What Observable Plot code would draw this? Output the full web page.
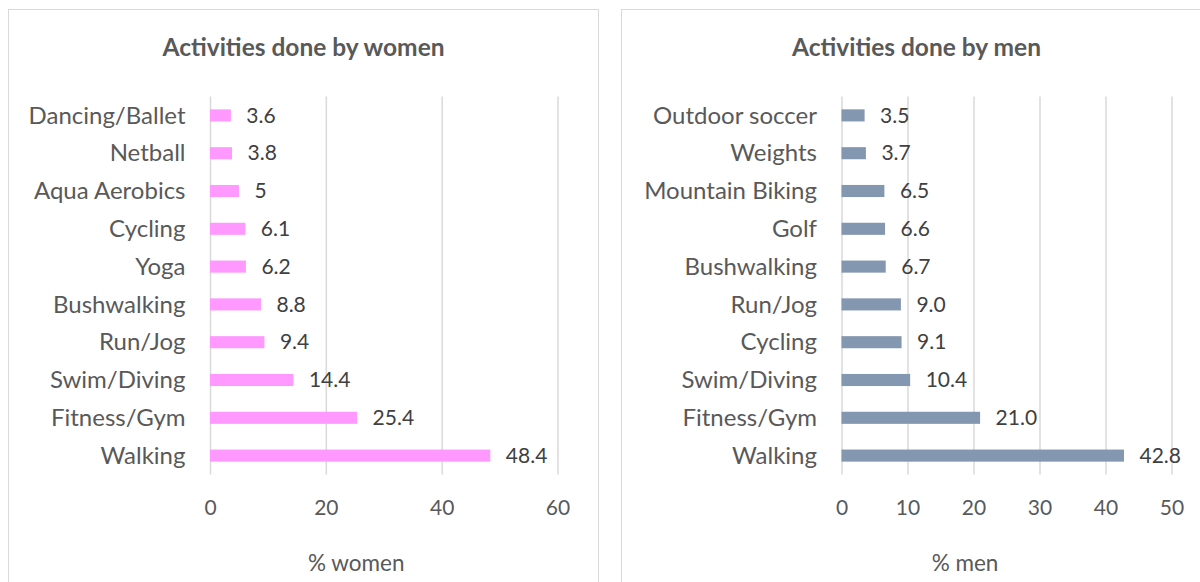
<!DOCTYPE html>
<html>
<head>
<meta charset="utf-8">
<script src="https://cdn.jsdelivr.net/npm/d3@7"></script>
<script src="https://cdn.jsdelivr.net/npm/@observablehq/plot@0.6"></script>
<style>
  html, body { margin: 0; padding: 0; background: #fff; }
  body { width: 1200px; height: 582px; overflow: hidden; position: relative; font-family: Lato, "Open Sans", sans-serif; }
  .panel { position: absolute; top: 9px; width: 591px; height: 640px; border: 1.5px solid #d9d9d9; box-sizing: border-box; background: #fff; }
  .title { position: absolute; top: 23px; left: 0; width: 100%; text-align: center; font-weight: bold; font-size: 24.5px; color: #595959; line-height: 28px; }
  .panel svg { position: absolute; left: 0; top: 0; }
</style>
</head>
<body>
<div class="panel" id="women" style="left:8px"><div class="title">Activities done by women</div></div>
<div class="panel" id="men" style="left:621px"><div class="title">Activities done by men</div></div>
<script>
const womenActivities = ["Dancing/Ballet", "Netball", "Aqua Aerobics", "Cycling", "Yoga", "Bushwalking", "Run/Jog", "Swim/Diving", "Fitness/Gym", "Walking"];
const womenValues = [3.6, 3.8, 5, 6.1, 6.2, 8.8, 9.4, 14.4, 25.4, 48.4];
const womenTicks = [0, 20, 40, 60];

const menActivities = ["Outdoor soccer", "Weights", "Mountain Biking", "Golf", "Bushwalking", "Run/Jog", "Cycling", "Swim/Diving", "Fitness/Gym", "Walking"];
const menValues = [3.5, 3.7, 6.5, 6.6, 6.7, 9.0, 9.1, 10.4, 21.0, 42.8];
const menTicks = [0, 10, 20, 30, 40, 50];

function panel({activities, values, ticks, domain, color, fmt, axisLabel, marginLeft, marginRight, labelDx}) {
  const data = activities.map((a, i) => ({activity: a, value: values[i], label: fmt(values[i])}));
  return Plot.plot({
    width: 588,
    height: 560,
    marginTop: 86.5,
    marginBottom: 95.5,
    marginLeft,
    marginRight,
    style: {fontFamily: "Lato, 'Open Sans', sans-serif", fontSize: "21px", color: "#595959", background: "transparent", overflow: "visible"},
    x: {domain, ticks, label: null},
    y: {domain: activities, paddingInner: 0.68, paddingOuter: 0.34, round: false, label: null},
    marks: [
      Plot.ruleX(ticks, {stroke: "#d9d9d9", strokeWidth: 1.5}),
      Plot.barX(data, {x: "value", y: "activity", fill: color}),
      Plot.text(data, {x: "value", y: "activity", text: "label", textAnchor: "start", dx: 15, fill: "#404040", fontSize: 21}),
      Plot.axisX({ticks, tickSize: 0, tickPadding: 25, fill: "#595959", fontSize: 21, label: null}),
      Plot.axisY({tickSize: 0, tickPadding: 25, fill: "#595959", fontSize: 24, label: null}),
      Plot.text([axisLabel], {frameAnchor: "bottom", lineAnchor: "middle", dy: 89, dx: labelDx, fill: "#595959", fontSize: 22.5})
    ]
  });
}

document.getElementById("women").appendChild(panel({
  activities: womenActivities, values: womenValues, ticks: womenTicks, domain: [0, 60],
  color: "#ff99ff", fmt: v => String(v), axisLabel: "% women",
  marginLeft: 201, marginRight: 39.5, labelDx: -28
}));
document.getElementById("men").appendChild(panel({
  activities: menActivities, values: menValues, ticks: menTicks, domain: [0, 50],
  color: "#8497b0", fmt: v => v.toFixed(1), axisLabel: "% men",
  marginLeft: 219.5, marginRight: 38.5, labelDx: -42
}));
</script>
</body>
</html>
